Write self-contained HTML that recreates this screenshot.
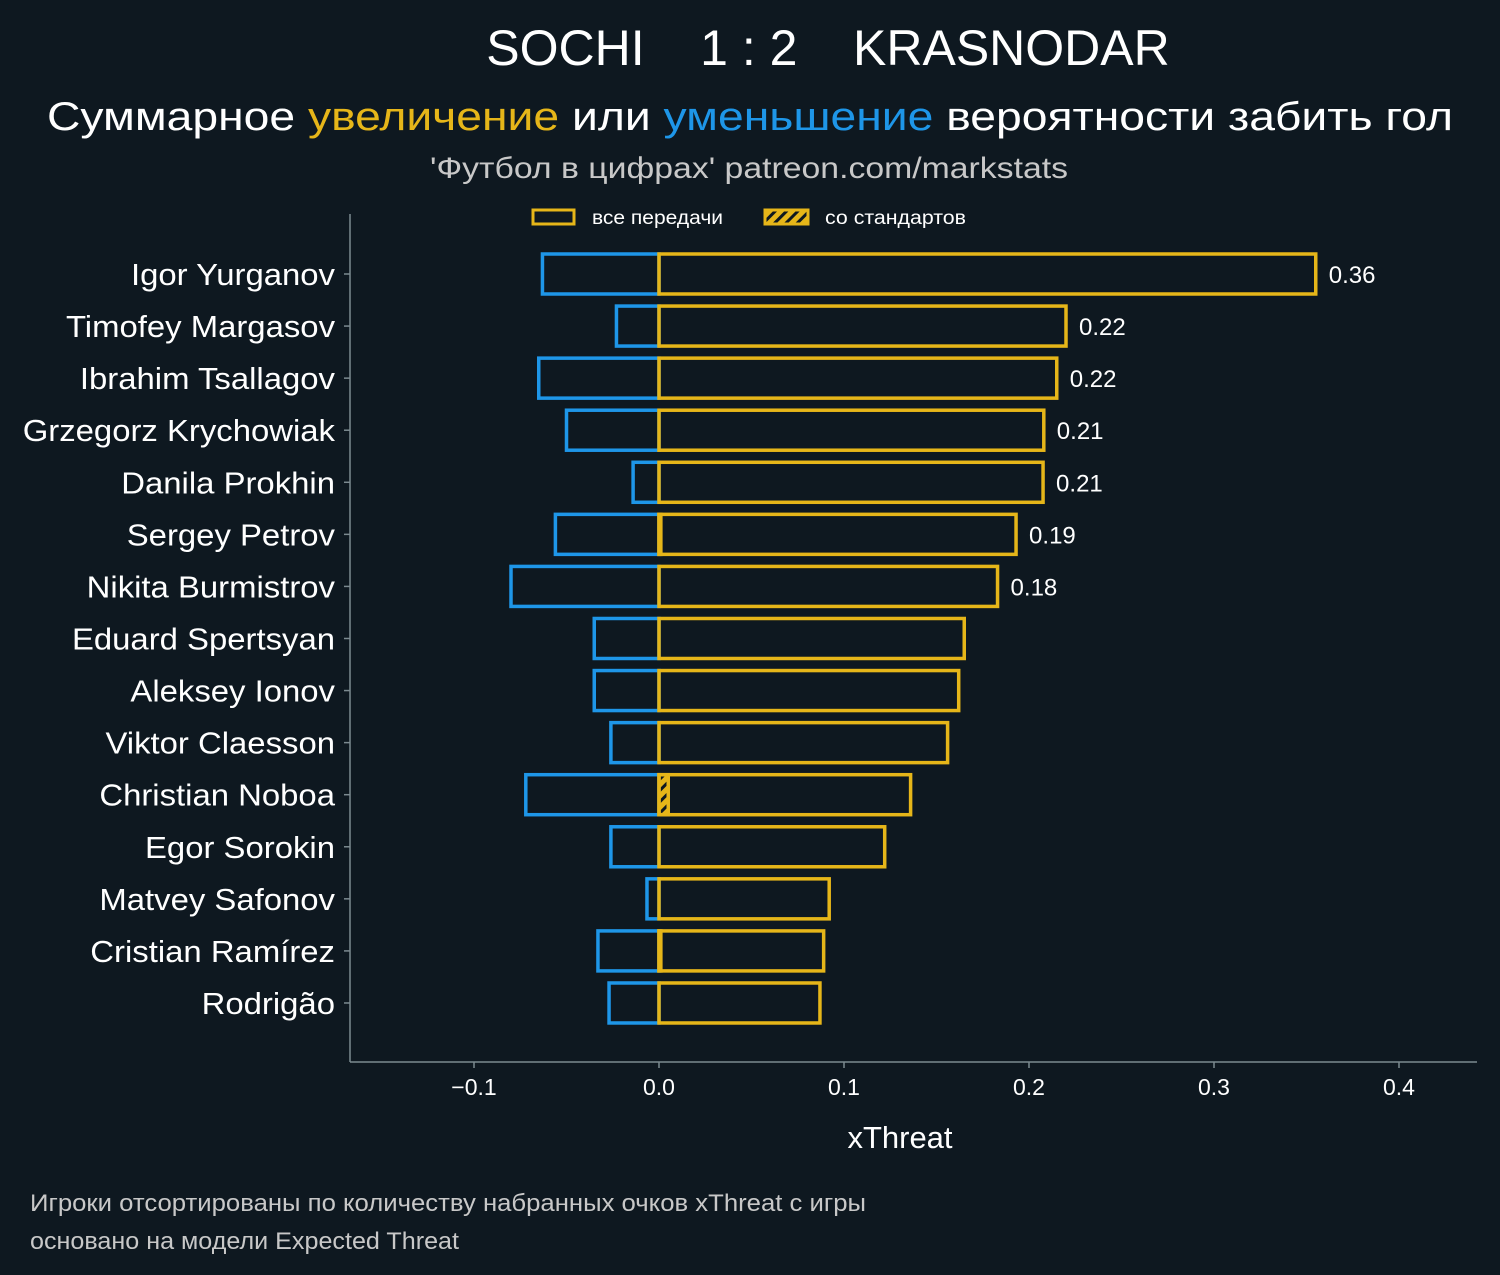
<!DOCTYPE html>
<html><head><meta charset="utf-8"><style>
body{margin:0;background:#0e1820;}
svg{display:block;font-family:"Liberation Sans","DejaVu Sans",sans-serif;}
</style></head><body>
<svg id="chart" width="1500" height="1275" xmlns="http://www.w3.org/2000/svg">
<defs><pattern id="hatch" patternUnits="userSpaceOnUse" width="8" height="8" patternTransform="rotate(45)"><rect width="8" height="8" fill="#e6b619"/><rect width="3" height="8" fill="#0e1820"/></pattern></defs>
<rect width="1500" height="1275" fill="#0e1820"/>
<text x="828" y="65" fill="#fff" font-size="50" text-anchor="middle" xml:space="preserve">SOCHI    1 : 2    KRASNODAR</text>
<text x="47" y="130" fill="#fff" font-size="40" textLength="1406" lengthAdjust="spacingAndGlyphs">Суммарное <tspan fill="#e6b619">увеличение</tspan> или <tspan fill="#1e96e8">уменьшение</tspan> вероятности забить гол</text>
<text x="430" y="178" fill="#c8c8c8" font-size="30" textLength="638" lengthAdjust="spacingAndGlyphs">'Футбол в цифрах' patreon.com/markstats</text>
<g>
<rect x="533" y="210" width="41" height="14" fill="none" stroke="#e6b619" stroke-width="3"/>
<text x="592" y="224" fill="#fff" font-size="19" textLength="131" lengthAdjust="spacingAndGlyphs">все передачи</text>
<rect x="765" y="210" width="43" height="14" fill="url(#hatch)" stroke="#e6b619" stroke-width="3"/>
<text x="825" y="224" fill="#fff" font-size="19" textLength="141" lengthAdjust="spacingAndGlyphs">со стандартов</text>
</g>
<line x1="350" y1="214" x2="350" y2="1062" stroke="#7c8a90" stroke-width="1.5"/>
<line x1="350" y1="1062" x2="1477" y2="1062" stroke="#7c8a90" stroke-width="1.5"/>
<g id="marks"></g>
<text x="900" y="1148" fill="#fff" font-size="31" text-anchor="middle">xThreat</text>
<text x="30" y="1211" fill="#c8c8c8" font-size="24" textLength="836" lengthAdjust="spacingAndGlyphs">Игроки отсортированы по количеству набранных очков xThreat с игры</text>
<text x="30" y="1249" fill="#c8c8c8" font-size="24" textLength="429" lengthAdjust="spacingAndGlyphs">основано на модели Expected Threat</text>
</svg>
<script>
const players=["Igor Yurganov","Timofey Margasov","Ibrahim Tsallagov","Grzegorz Krychowiak","Danila Prokhin","Sergey Petrov","Nikita Burmistrov","Eduard Spertsyan","Aleksey Ionov","Viktor Claesson","Christian Noboa","Egor Sorokin","Matvey Safonov","Cristian Ramírez","Rodrigão"];
const positive=[0.355,0.220,0.215,0.208,0.2076,0.193,0.183,0.165,0.162,0.156,0.136,0.122,0.092,0.089,0.087];
const negative=[-0.063,-0.023,-0.065,-0.050,-0.014,-0.056,-0.080,-0.035,-0.035,-0.026,-0.072,-0.026,-0.0065,-0.033,-0.027];
const setPieces=[0,0,0,0,0,0.001,0,0,0,0,0.005,0,0,0.001,0];
const valueLabels=["0.36","0.22","0.22","0.21","0.21","0.19","0.18","","","","","","","",""];
const xTicks=[-0.1,0,0.1,0.2,0.3,0.4];
const xTickLabels=["−0.1","0.0","0.1","0.2","0.3","0.4"];
const NS="http://www.w3.org/2000/svg";
const X=v=>659+v*1850;
const Y=i=>274+i*52.07;
const g=document.getElementById('marks');
function mk(t,a){const e=document.createElementNS(NS,t);for(const k in a)e.setAttribute(k,a[k]);g.appendChild(e);return e;}
players.forEach((p,i)=>{
  const y=Y(i);
  const n=mk('rect',{x:X(negative[i]),y:y-20,width:X(0)-X(negative[i]),height:40,fill:'none',stroke:'#1e96e8','stroke-width':3.5});
  
  
  if(setPieces[i]>0){
    const s=mk('rect',{x:X(0),y:y-20,width:X(setPieces[i])-X(0),height:40,fill:'url(#hatch)',stroke:'#e6b619','stroke-width':3.5});
    
    
  }
  const b=mk('rect',{x:X(0),y:y-20,width:X(positive[i])-X(0),height:40,fill:'none',stroke:'#e6b619','stroke-width':3.5});
  
  
  if(valueLabels[i]){
    const t=mk('text',{x:X(positive[i])+13,y:y+9,fill:'#fff','font-size':24});
    t.textContent=valueLabels[i];
    
    
  }
  const tk=mk('line',{x1:344,x2:350,y1:y,y2:y,stroke:'#7c8a90','stroke-width':1.5});
  
  
  const l=mk('text',{x:335,y:y+11,fill:'#fff','font-size':31,'text-anchor':'end'});
  l.textContent=p;
  
  
  const w=l.getComputedTextLength();
  l.setAttribute('textLength',w*1.06);
  l.setAttribute('lengthAdjust','spacingAndGlyphs');
});
xTicks.forEach((v,i)=>{
  const tk=mk('line',{x1:X(v),x2:X(v),y1:1062,y2:1068,stroke:'#7c8a90','stroke-width':1.5});
  
  
  const t=mk('text',{x:X(v),y:1095,fill:'#fff','font-size':23,'text-anchor':'middle'});
  t.textContent=xTickLabels[i];
  
  
});
</script>
</body></html>
